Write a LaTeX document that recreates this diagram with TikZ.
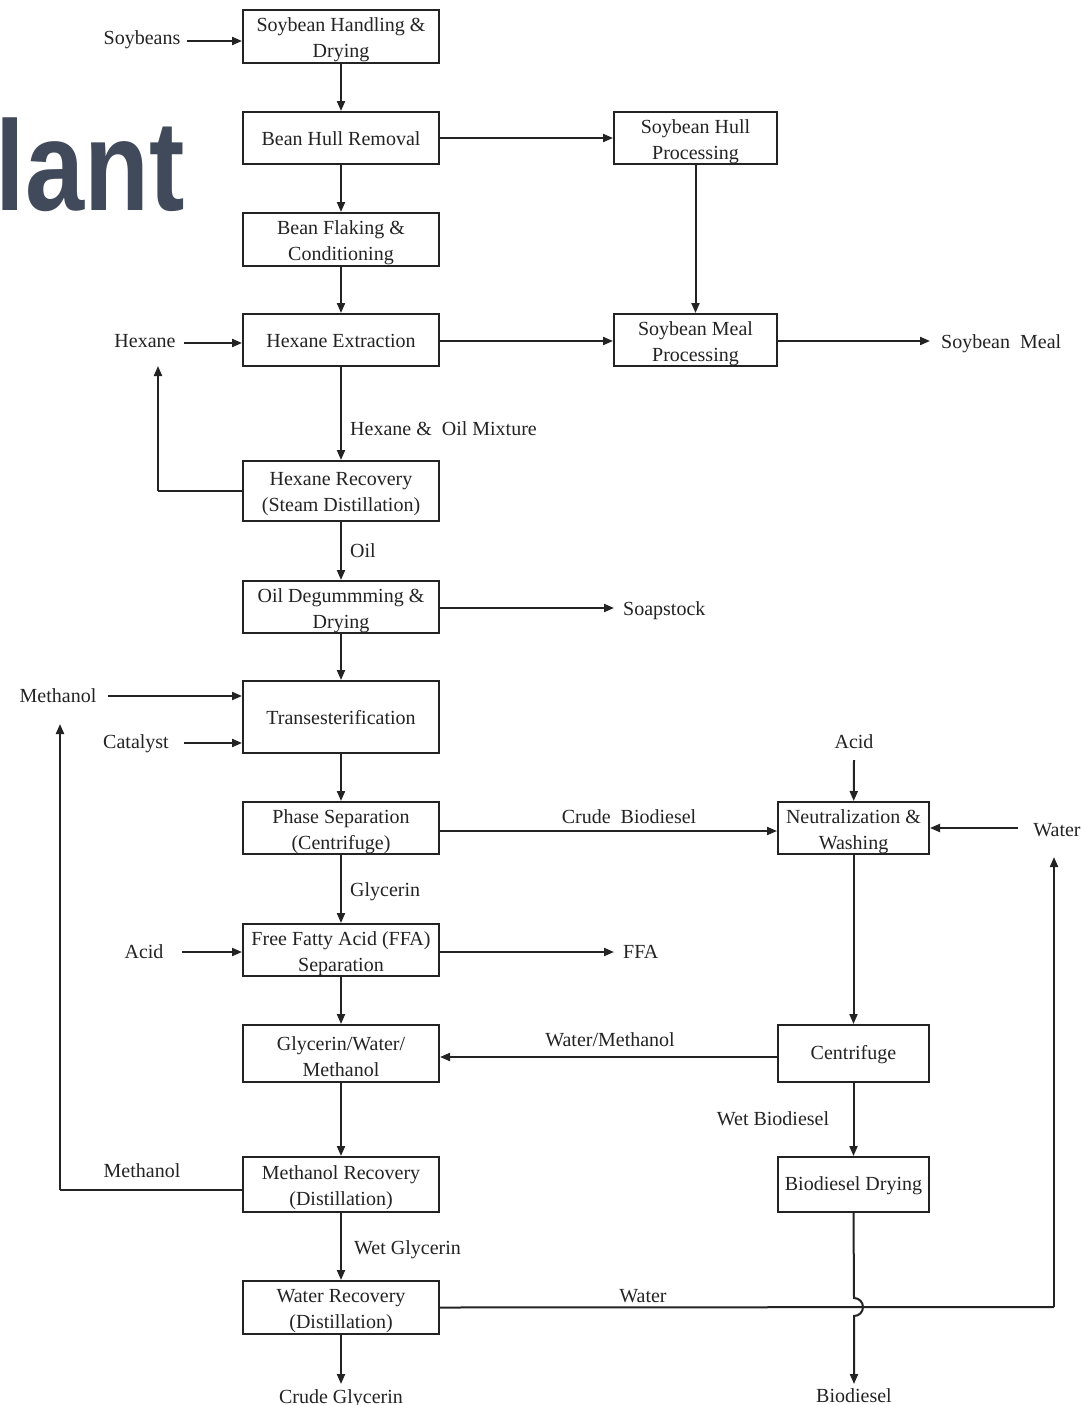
\documentclass[tikz,border=0pt]{standalone}
\usepackage{fontspec}
\setmainfont{Liberation Serif}
\newfontfamily\titlefont{Liberation Sans}
\usetikzlibrary{arrows.meta}
\definecolor{titlec}{RGB}{65,74,91}
\definecolor{linec}{RGB}{35,35,35}
\definecolor{textc}{RGB}{35,35,35}
\begin{document}
\begin{tikzpicture}[x=1pt,y=1pt,
  font=\fontsize{20}{26}\selectfont,
  box/.style={draw=linec,line width=2pt,inner sep=0pt},
  lbox/.style={box,minimum width=196},
  mbox/.style={box,minimum width=163},
  rbox/.style={box,minimum width=151},
  boxtext/.style={align=center,inner sep=0pt,text=textc,label distance=0pt},
  tone/.style={label={[boxtext,yshift=-1pt]center:#1}},
  ttwo/.style={label={[boxtext,yshift=-3.5pt]center:#1}},
  lbl/.style={inner sep=0pt,text=textc,text height=14pt,text depth=0pt},
  arr/.style={draw=linec,line width=2pt,-{Triangle[length=10pt,width=8pt]}},
  ln/.style={draw=linec,line width=2pt}]
\useasboundingbox (0,0) rectangle (1081,-1405);
\fill[white] (0,0) rectangle (1081,-1405);
% title fragment
\node[anchor=base east,inner sep=0pt,text=titlec,font=\titlefont\bfseries\fontsize{128}{130}\selectfont] (title) at (185,-210) {\scalebox{0.83}[1]{lant}};
% left column
\node[lbox,minimum height=53,ttwo={Soybean Handling \&\\Drying}] (n1) at (341,-36.5) {};
\node[lbox,minimum height=52,tone={Bean Hull Removal}] (n2) at (341,-138) {};
\node[lbox,minimum height=53,ttwo={Bean Flaking \&\\Conditioning}] (n3) at (341,-239.5) {};
\node[lbox,minimum height=52,tone={Hexane Extraction}] (n4) at (341,-340) {};
\node[lbox,minimum height=60,ttwo={Hexane Recovery\\(Steam Distillation)}] (n5) at (341,-491) {};
\node[lbox,minimum height=52,ttwo={Oil Degummming \&\\Drying}] (n6) at (341,-607) {};
\node[lbox,minimum height=72,tone={Transesterification}] (n7) at (341,-717) {};
\node[lbox,minimum height=52,ttwo={Phase Separation\\(Centrifuge)}] (n8) at (341,-828) {};
\node[lbox,minimum height=52,ttwo={Free Fatty Acid (FFA)\\Separation}] (n9) at (341,-950) {};
\node[lbox,minimum height=57,ttwo={Glycerin/Water/\\Methanol}] (n10) at (341,-1053.5) {};
\node[lbox,minimum height=55,ttwo={Methanol Recovery\\(Distillation)}] (n11) at (341,-1184.5) {};
\node[lbox,minimum height=53,ttwo={Water Recovery\\(Distillation)}] (n12) at (341,-1307.5) {};
% middle column
\node[mbox,minimum height=52,ttwo={Soybean Hull\\Processing}] (m1) at (695.5,-138) {};
\node[mbox,minimum height=52,ttwo={Soybean Meal\\Processing}] (m2) at (695.5,-340) {};
% right column
\node[rbox,minimum height=52,ttwo={Neutralization \&\\Washing}] (r1) at (853.5,-828) {};
\node[rbox,minimum height=57,tone={Centrifuge}] (r2) at (853.5,-1053.5) {};
\node[rbox,minimum height=55,tone={Biodiesel Drying}] (r3) at (853.5,-1184.5) {};
% text labels
\node[lbl] (soybeans) at (142,-38) {Soybeans};
\node[lbl] (hexane) at (145,-340) {Hexane};
\node[lbl,anchor=west] (soymeal) at (941,-341) {Soybean\ \ Meal};
\node[lbl,anchor=west] (hom) at (350,-428) {Hexane \&\ \ Oil Mixture};
\node[lbl,anchor=west] (oil) at (350,-550) {Oil};
\node[lbl,anchor=west] (soap) at (623,-608) {Soapstock};
\node[lbl] (meth1) at (58,-695) {Methanol};
\node[lbl] (cat) at (136,-741) {Catalyst};
\node[lbl] (acid1) at (854,-741) {Acid};
\node[lbl] (water1) at (1057,-829) {Water};
\node[lbl] (crude) at (629,-816) {Crude\ \ Biodiesel};
\node[lbl,anchor=west] (glyc) at (350,-889) {Glycerin};
\node[lbl] (acid2) at (144,-951) {Acid};
\node[lbl,anchor=west] (ffa) at (623,-951) {FFA};
\node[lbl] (wm) at (610,-1039) {Water/Methanol};
\node[lbl] (wetbio) at (773,-1118) {Wet Biodiesel};
\node[lbl] (meth2) at (142,-1170) {Methanol};
\node[lbl,anchor=west] (wetgly) at (354,-1247) {Wet Glycerin};
\node[lbl] (water2) at (643,-1295) {Water};
\node[lbl,anchor=base] (cglyc) at (341,-1403) {Crude Glycerin};
\node[lbl,anchor=base] (biod) at (854,-1402) {Biodiesel};
% coordinates
\coordinate (sbs) at (187,-41);
\coordinate (hxs) at (184,-343);
\coordinate (hxr) at (158,-491);
\coordinate (hxu) at (158,-366);
\coordinate (mes) at (108,-696);
\coordinate (cas) at (184,-743);
\coordinate (acs) at (854,-760);
\coordinate (was) at (1018,-828);
\coordinate (a2s) at (182,-952);
\coordinate (mr) at (60,-1190);
\coordinate (mu) at (60,-724);
\coordinate (wr) at (1054,-1307);
\coordinate (wu) at (1054,-857);
\coordinate (cgt) at (341,-1384);
\coordinate (bdt) at (854,-1384);
\coordinate (smt) at (930,-341);
\coordinate (sot) at (614,-608);
\coordinate (fft) at (614,-952);
% connectors
\draw[arr] (sbs) -- (n1.west|-sbs);
\draw[arr] (n1) -- (n2);
\draw[arr] (n2) -- (n3);
\draw[arr] (n3) -- (n4);
\draw[arr] (n2) -- (m1);
\draw[arr] (m1) -- (m2);
\draw[arr] (hxs) -- (n4.west|-hxs);
\draw[arr] (n4.east|-smt) -- (m2.west|-smt);
\draw[arr] (m2.east|-smt) -- (smt);
\draw[arr] (n4) -- (n5);
\draw[ln] (n5.west) -- (hxr);
\draw[arr] (hxr) -- (hxu);
\draw[arr] (n5) -- (n6);
\draw[arr] (n6.east|-sot) -- (sot);
\draw[arr] (n6) -- (n7);
\draw[arr] (mes) -- (n7.west|-mes);
\draw[arr] (cas) -- (n7.west|-cas);
\draw[arr] (n7) -- (n8);
\draw[arr] (n8.east|-0,-831) -- (r1.west|-0,-831);
\draw[arr] (acs) -- (r1);
\draw[arr] (was) -- (r1.east|-was);
\draw[arr] (n8) -- (n9);
\draw[arr] (a2s) -- (n9.west|-a2s);
\draw[arr] (n9.east|-fft) -- (fft);
\draw[arr] (n9) -- (n10);
\draw[arr] (r1) -- (r2);
\draw[arr] (r2.west|-0,-1057) -- (n10.east|-0,-1057);
\draw[arr] (r2) -- (r3);
\draw[arr] (n10) -- (n11);
\draw[ln] (n11.west|-mr) -- (mr);
\draw[arr] (mr) -- (mu);
\draw[arr] (n11) -- (n12);
\draw[arr] (n12) -- (cgt);
\draw[ln] (n12.east) -- (wr);
\draw[arr] (wr) -- (wu);
\draw[arr] (r3.south) -- (854,-1298) arc[start angle=90,end angle=-90,radius=9] -- (bdt);
\end{tikzpicture}
\end{document}
